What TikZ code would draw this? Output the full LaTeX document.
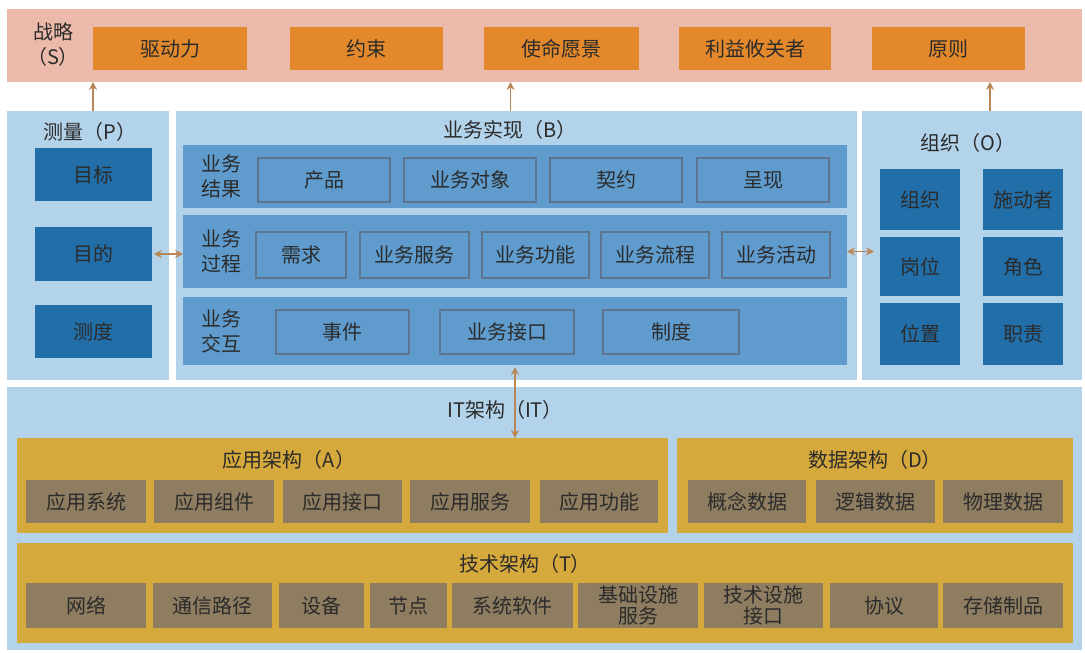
\documentclass[tikz,border=0pt]{standalone}
\usepackage{fontspec}
\setmainfont{Noto Sans CJK SC}
\usetikzlibrary{arrows.meta}
\definecolor{pinkbg}{HTML}{ECBAAA}
\definecolor{orangebx}{HTML}{E3892C}
\definecolor{lightblue}{HTML}{B2D3EA}
\definecolor{midblue}{HTML}{5F9CCD}
\definecolor{darkblue}{HTML}{226EA8}
\definecolor{edgegray}{HTML}{5E7590}
\definecolor{goldbg}{HTML}{D6A93C}
\definecolor{graybx}{HTML}{8E7D60}
\definecolor{arrowc}{HTML}{B98656}
\definecolor{txt}{HTML}{2B2B2B}
\newcommand\Bx[7]{\node[#1, minimum width={(#4-#2)*1pt}, minimum height={(#5-#3)*1pt}] (#7) at ({(#2+#4)/2},{(#3+#5)/2}) {#6};}
\begin{document}
\begin{tikzpicture}[x=1pt,y=-1pt,
  every node/.style={inner sep=0pt, outer sep=0pt, text=txt, font=\fontsize{20}{24}\selectfont, align=center},
  band/.style={rectangle, fill=pinkbg},
  obox/.style={rectangle, fill=orangebx},
  panel/.style={rectangle, fill=lightblue},
  row/.style={rectangle, fill=midblue},
  ibox/.style={rectangle, fill=midblue, draw=edgegray, line width=2.5pt},
  dbox/.style={rectangle, fill=darkblue},
  gpanel/.style={rectangle, fill=goldbg},
  gbox/.style={rectangle, fill=graybx},
  lbl/.style={font=\fontsize{20}{24}\selectfont},
  two/.style={font=\fontsize{20}{25}\selectfont},
  arr/.style={draw=arrowc, line width=1.5pt, -{Stealth[length=8pt,width=8pt]}},
  darr/.style={draw=arrowc, line width=1.5pt, {Stealth[length=8pt,width=8pt]}-{Stealth[length=8pt,width=8pt]}}
]
\useasboundingbox (0,0) rectangle (1085,653);
% Strategy
\Bx{band}{7}{9}{1082}{82}{}{S}
\node[two] (slbl) at (53,45) {战略\\（S）};
\Bx{obox}{93}{27}{247}{70}{驱动力}{s1}
\Bx{obox}{290}{27}{443}{70}{约束}{s2}
\Bx{obox}{484}{27}{639}{70}{使命愿景}{s3}
\Bx{obox}{679}{27}{831}{70}{利益攸关者}{s4}
\Bx{obox}{872}{27}{1025}{70}{原则}{s5}
% Panels
\Bx{panel}{7}{111}{169}{380}{}{P}
\Bx{panel}{176}{111}{857}{380}{}{B}
\Bx{panel}{862}{111}{1082}{380}{}{O}
\Bx{panel}{7}{387}{1082}{650}{}{IT}
% P
\node[lbl] (ptitle) at (90,132) {测量（P）};
\Bx{dbox}{35}{148}{152}{201}{目标}{p1}
\Bx{dbox}{35}{227}{152}{281}{目的}{p2}
\Bx{dbox}{35}{305}{152}{358}{测度}{p3}
% B
\node[lbl] (btitle) at (510,130) {业务实现（B）};
\Bx{row}{183}{145}{847}{208}{}{row1}
\Bx{row}{183}{215}{847}{288}{}{row2}
\Bx{row}{183}{297}{847}{365}{}{row3}
\node[two] (r1l) at (221,176.5) {业务\\结果};
\node[two] (r2l) at (221,251.5) {业务\\过程};
\node[two] (r3l) at (221,331) {业务\\交互};
\Bx{ibox}{258}{158}{390}{202}{产品}{b11}
\Bx{ibox}{404}{158}{536}{202}{业务对象}{b12}
\Bx{ibox}{550}{158}{682}{202}{契约}{b13}
\Bx{ibox}{697}{158}{829}{202}{呈现}{b14}
\Bx{ibox}{256}{232}{346}{278}{需求}{b21}
\Bx{ibox}{360}{232}{469}{278}{业务服务}{b22}
\Bx{ibox}{482}{232}{589}{278}{业务功能}{b23}
\Bx{ibox}{601}{232}{709}{278}{业务流程}{b24}
\Bx{ibox}{722}{232}{830}{278}{业务活动}{b25}
\Bx{ibox}{276}{310}{409}{354}{事件}{b31}
\Bx{ibox}{440}{310}{574}{354}{业务接口}{b32}
\Bx{ibox}{603}{310}{739}{354}{制度}{b33}
% O
\node[lbl] (otitle) at (968,143) {组织（O）};
\Bx{dbox}{880}{169}{960}{230}{组织}{o11}
\Bx{dbox}{983}{169}{1063}{230}{施动者}{o12}
\Bx{dbox}{880}{237}{960}{296}{岗位}{o21}
\Bx{dbox}{983}{237}{1063}{296}{角色}{o22}
\Bx{dbox}{880}{303}{960}{365}{位置}{o31}
\Bx{dbox}{983}{303}{1063}{365}{职责}{o32}
% IT
\node[lbl] (ittitle) at (505,410) {IT架构（IT）};
\Bx{gpanel}{17}{438}{668}{533}{}{A}
\Bx{gpanel}{677}{438}{1073}{533}{}{D}
\Bx{gpanel}{17}{543}{1073}{643}{}{T}
\node[lbl] (atitle) at (289,460) {应用架构（A）};
\node[lbl] (dtitle) at (875,460) {数据架构（D）};
\node[lbl] (ttitle) at (525,564) {技术架构（T）};
\Bx{gbox}{26}{480}{146}{523}{应用系统}{a1}
\Bx{gbox}{154}{480}{274}{523}{应用组件}{a2}
\Bx{gbox}{283}{480}{402}{523}{应用接口}{a3}
\Bx{gbox}{410}{480}{530}{523}{应用服务}{a4}
\Bx{gbox}{540}{480}{658}{523}{应用功能}{a5}
\Bx{gbox}{688}{480}{806}{523}{概念数据}{d1}
\Bx{gbox}{816}{480}{935}{523}{逻辑数据}{d2}
\Bx{gbox}{943}{480}{1063}{523}{物理数据}{d3}
\Bx{gbox}{26}{583}{146}{628}{网络}{t1}
\Bx{gbox}{153}{583}{272}{628}{通信路径}{t2}
\Bx{gbox}{279}{583}{364}{628}{设备}{t3}
\Bx{gbox}{370}{583}{447}{628}{节点}{t4}
\Bx{gbox}{452}{583}{573}{628}{系统软件}{t5}
\node[gbox, minimum width=120pt, minimum height=45pt, font=\fontsize{20}{21}\selectfont] (t6) at (638,605.5) {基础设施\\服务};
\node[gbox, minimum width=119pt, minimum height=45pt, font=\fontsize{20}{21}\selectfont] (t7) at (763.5,605.5) {技术设施\\接口};
\Bx{gbox}{830}{583}{938}{628}{协议}{t8}
\Bx{gbox}{943}{583}{1063}{628}{存储制品}{t9}
% Connectors
\draw[arr] ([xshift=5pt]P.north) -- ([xshift=5pt]P.north |- S.south);
\draw[arr] ([xshift=-6pt]B.north) -- ([xshift=-6pt]B.north |- S.south);
\draw[arr] ([xshift=18pt]O.north) -- ([xshift=18pt]O.north |- S.south);
\draw[darr] ([xshift=2pt]p2.east) -- (p2.east -| row2.west);
\draw[darr] (row2.east) -- ([xshift=-6pt]row2.east -| o21.west);
\draw[darr] ([yshift=-2pt]row3.south) -- (row3.south |- A.north);
\end{tikzpicture}
\end{document}
